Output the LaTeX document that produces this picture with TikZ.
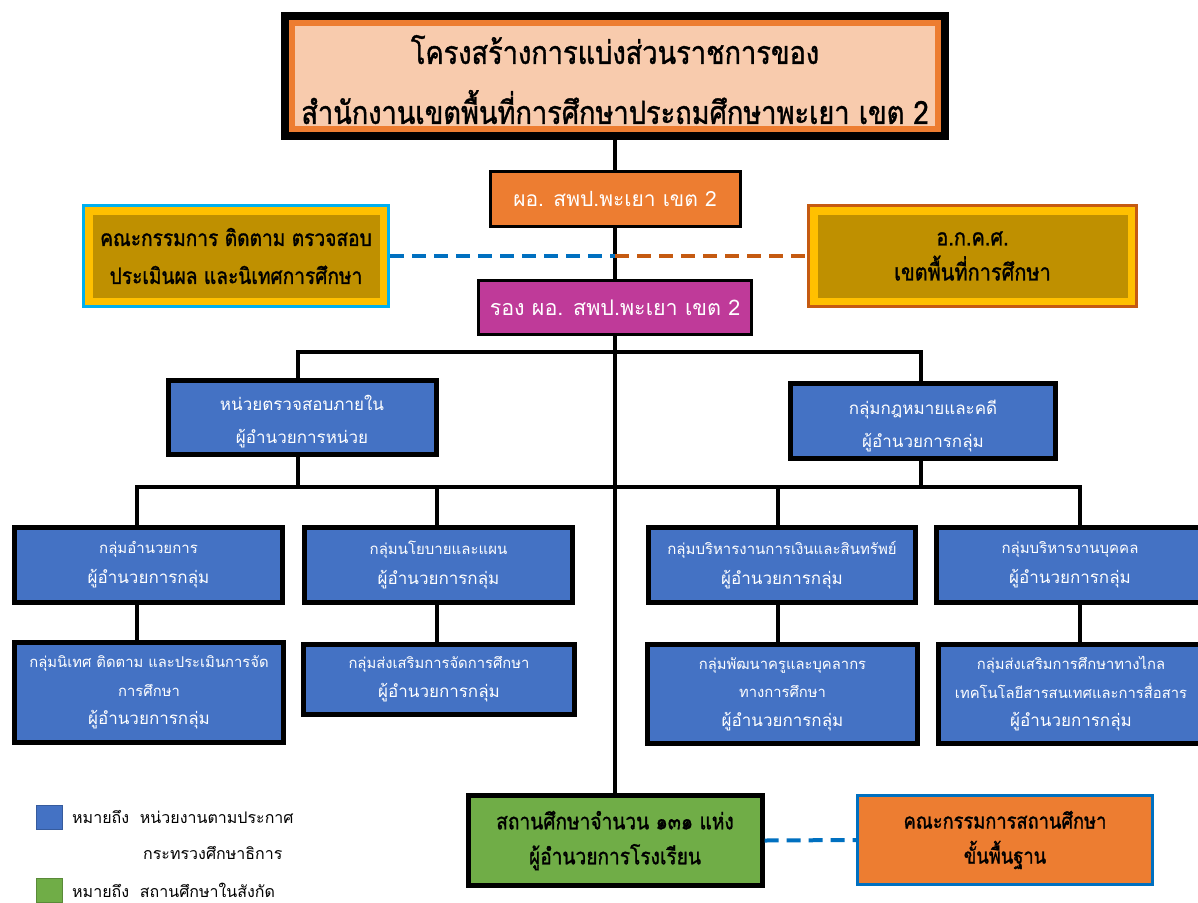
\documentclass[tikz,border=0pt]{standalone}
\usepackage{fontspec}
\newfontfamily\thai[Script=Thai]{Loma}
\newfontfamily\thaic[Script=Thai,FakeStretch=0.85,FakeBold=1.2]{Loma}
\definecolor{peach}{HTML}{F8CBAD}
\definecolor{orng}{HTML}{ED7D31}
\definecolor{gold}{HTML}{BF9000}
\definecolor{yell}{HTML}{FFC000}
\definecolor{cyanb}{HTML}{00B0F0}
\definecolor{brown}{HTML}{C55A11}
\definecolor{mag}{HTML}{BF3A99}
\definecolor{blu}{HTML}{4472C4}
\definecolor{grn}{HTML}{70AD47}
\definecolor{dblu}{HTML}{0070C0}
\begin{document}
\begin{tikzpicture}[x=1pt,y=-1pt,line join=miter,
  conn/.style={line width=4pt,black},
  box/.style={rectangle,inner sep=0pt,align=center,anchor=center},
  inset/.style={path picture={\fill[#1] ([xshift=9pt,yshift=-9pt]path picture bounding box.north west) rectangle ([xshift=-9pt,yshift=9pt]path picture bounding box.south east);}},
  bluebox/.style={box,draw=black,line width=5pt,fill=blu,text=white},
  topfont/.style={font=\thai\fontsize{17}{33}\selectfont},
  lowfont/.style={font=\thai\fontsize{17}{30}\selectfont},
  dash3/.style={line width=4pt,dash pattern=on 14pt off 8pt}]
\useasboundingbox (0,0) rectangle (1198,902);
\clip (0,0) rectangle (1198,902);
\fill[white] (0,0) rectangle (1198,902);

% title
\node[box,draw=black,line width=8pt,fill=orng,minimum width=660pt,minimum height=120pt,
  path picture={\fill[peach] ([xshift=10pt,yshift=-10pt]path picture bounding box.north west) rectangle ([xshift=-10pt,yshift=10pt]path picture bounding box.south east);},
  font=\thaic\fontsize{32}{60}\selectfont] (title) at (615,76)
  {\rule{0pt}{36pt}โครงสร้างการแบ่งส่วนราชการของ\\สำนักงานเขตพื้นที่การศึกษาประถมศึกษาพะเยา เขต 2};

% director
\node[box,draw=black,line width=3pt,fill=orng,text=white,minimum width=250pt,minimum height=55pt,
  font=\thai\fontsize{21}{24}\selectfont] (dir) at (615,199) {ผอ. สพป.พะเยา เขต 2};

% committees
\node[box,draw=cyanb,line width=3pt,fill=yell,inset=gold,minimum width=305pt,minimum height=101pt,
  font=\thaic\fontsize{22.5}{38}\selectfont] (cL) at (236,256)
  {คณะกรรมการ ติดตาม ตรวจสอบ\\ประเมินผล และนิเทศการศึกษา};
\node[box,draw=brown,line width=3pt,fill=yell,inset=gold,minimum width=328pt,minimum height=101pt,
  font=\thaic\fontsize{23.5}{35}\selectfont] (cR) at (972.5,256)
  {อ.ก.ค.ศ.\\เขตพื้นที่การศึกษา};

% deputy
\node[box,draw=black,line width=3pt,fill=mag,text=white,minimum width=273pt,minimum height=54pt,
  font=\thai\fontsize{21.5}{24}\selectfont] (dep) at (615,307.5) {รอง ผอ. สพป.พะเยา เขต 2};

% level 2
\node[bluebox,topfont,minimum width=268pt,minimum height=74pt] (audit) at (302,417.5)
  {\rule{0pt}{24pt}หน่วยตรวจสอบภายใน\\ผู้อำนวยการหน่วย};
\node[bluebox,topfont,minimum width=265pt,minimum height=75pt] (law) at (923,421)
  {\rule{0pt}{24pt}กลุ่มกฎหมายและคดี\\ผู้อำนวยการกลุ่ม};

% level 3
\node[bluebox,lowfont,minimum width=268pt,minimum height=75pt] (gA) at (148.5,565)
  {{\fontsize{15}{30}\selectfont กลุ่มอำนวยการ}\\ผู้อำนวยการกลุ่ม};
\node[bluebox,lowfont,minimum width=268pt,minimum height=75pt] (gB) at (438.5,565)
  {{\fontsize{15}{30}\selectfont กลุ่มนโยบายและแผน}\\ผู้อำนวยการกลุ่ม};
\node[bluebox,lowfont,minimum width=267pt,minimum height=75pt] (gC) at (782,565)
  {{\fontsize{15}{30}\selectfont กลุ่มบริหารงานการเงินและสินทรัพย์}\\ผู้อำนวยการกลุ่ม};
\node[bluebox,lowfont,minimum width=267pt,minimum height=75pt] (gD) at (1070,565)
  {{\fontsize{15}{30}\selectfont กลุ่มบริหารงานบุคคล}\\ผู้อำนวยการกลุ่ม};

% level 4
\node[bluebox,font=\thai\fontsize{17}{28.5}\selectfont,minimum width=269pt,minimum height=100pt] (hA) at (149,692.5)
  {{\fontsize{14.8}{28.5}\selectfont กลุ่มนิเทศ ติดตาม และประเมินการจัด}\\{\fontsize{14.8}{28.5}\selectfont การศึกษา}\\ผู้อำนวยการกลุ่ม};
\node[bluebox,font=\thai\fontsize{17}{29}\selectfont,minimum width=271pt,minimum height=70pt] (hB) at (439,679.5)
  {{\fontsize{14.8}{29}\selectfont กลุ่มส่งเสริมการจัดการศึกษา}\\ผู้อำนวยการกลุ่ม};
\node[bluebox,font=\thai\fontsize{17}{28.5}\selectfont,minimum width=270pt,minimum height=99pt] (hC) at (782.5,694)
  {{\fontsize{14.8}{28.5}\selectfont กลุ่มพัฒนาครูและบุคลากร}\\{\fontsize{14.8}{28.5}\selectfont ทางการศึกษา}\\ผู้อำนวยการกลุ่ม};
\node[bluebox,font=\thai\fontsize{17}{28.5}\selectfont,minimum width=265pt,minimum height=99pt] (hD) at (1071,694)
  {{\fontsize{14.8}{28.5}\selectfont กลุ่มส่งเสริมการศึกษาทางไกล}\\{\fontsize{14.8}{28.5}\selectfont เทคโนโลยีสารสนเทศและการสื่อสาร}\\ผู้อำนวยการกลุ่ม};

% schools
\node[box,draw=black,line width=5pt,fill=grn,minimum width=294pt,minimum height=90pt,
  font=\thaic\fontsize{22.5}{35}\selectfont] (school) at (615,840.5)
  {สถานศึกษาจำนวน ๑๓๑ แห่ง\\ผู้อำนวยการโรงเรียน};
\node[box,draw=dblu,line width=3pt,fill=orng,minimum width=295pt,minimum height=89pt,
  font=\thaic\fontsize{21.5}{35}\selectfont] (board) at (1005,840)
  {คณะกรรมการสถานศึกษา\\ขั้นพื้นฐาน};

% connectors
\draw[conn] (title.south) -- (dir.north);
\draw[conn] (dir.south) -- (dep.north);
\draw[conn] (dep.south) -- (school.north);
\coordinate (bus1) at (615,352);
\draw[conn] ([xshift=-4pt]audit.north) |- (bus1) -| ([xshift=-2pt]law.north);
\coordinate (bus2) at (615,487);
\draw[conn] ([xshift=-11.5pt]gA.north) |- (bus2) -| ([xshift=10pt]gD.north);
\draw[conn] ([xshift=-4pt]audit.south) -- ([xshift=-4pt]audit.south |- bus2);
\draw[conn] ([xshift=-2pt]law.south) -- ([xshift=-2pt]law.south |- bus2);
\draw[conn] ([xshift=-1.5pt]gB.north) -- ([xshift=-1.5pt]gB.north |- bus2);
\draw[conn] ([xshift=-4pt]gC.north) -- ([xshift=-4pt]gC.north |- bus2);
\draw[conn] ([xshift=-11.5pt]gA.south) -- ([xshift=-12pt]hA.north);
\draw[conn] ([xshift=-1.5pt]gB.south) -- ([xshift=-2pt]hB.north);
\draw[conn] ([xshift=-4pt]gC.south) -- ([xshift=-4.5pt]hC.north);
\draw[conn] ([xshift=10pt]gD.south) -- ([xshift=9pt]hD.north);

\draw[dash3,dblu] (cL.east) -- (cL.east -| dep.center);
\draw[dash3,brown] (cL.east -| dep.center) -- (cR.west);
\draw[dash3,dblu] (school.east) -- (board.west);

% legend
\node[box,draw=blu!80!black,line width=1pt,fill=blu,minimum width=26pt,minimum height=24pt] (lgB) at (49.5,817.5) {};
\node[box,draw=grn!80!black,line width=1pt,fill=grn,minimum width=26pt,minimum height=24pt] (lgG) at (49.5,890.5) {};
\node[anchor=west,inner sep=0pt,font=\thai\fontsize{16}{18}\selectfont] (lgT1) at (72,817) {หมายถึง\ \ หน่วยงานตามประกาศ};
\node[anchor=west,inner sep=0pt,font=\thai\fontsize{16}{18}\selectfont] (lgT2) at (143,853) {กระทรวงศึกษาธิการ};
\node[anchor=west,inner sep=0pt,font=\thai\fontsize{16}{18}\selectfont] (lgT3) at (72,890) {หมายถึง\ \ สถานศึกษาในสังกัด};
\end{tikzpicture}
\end{document}
